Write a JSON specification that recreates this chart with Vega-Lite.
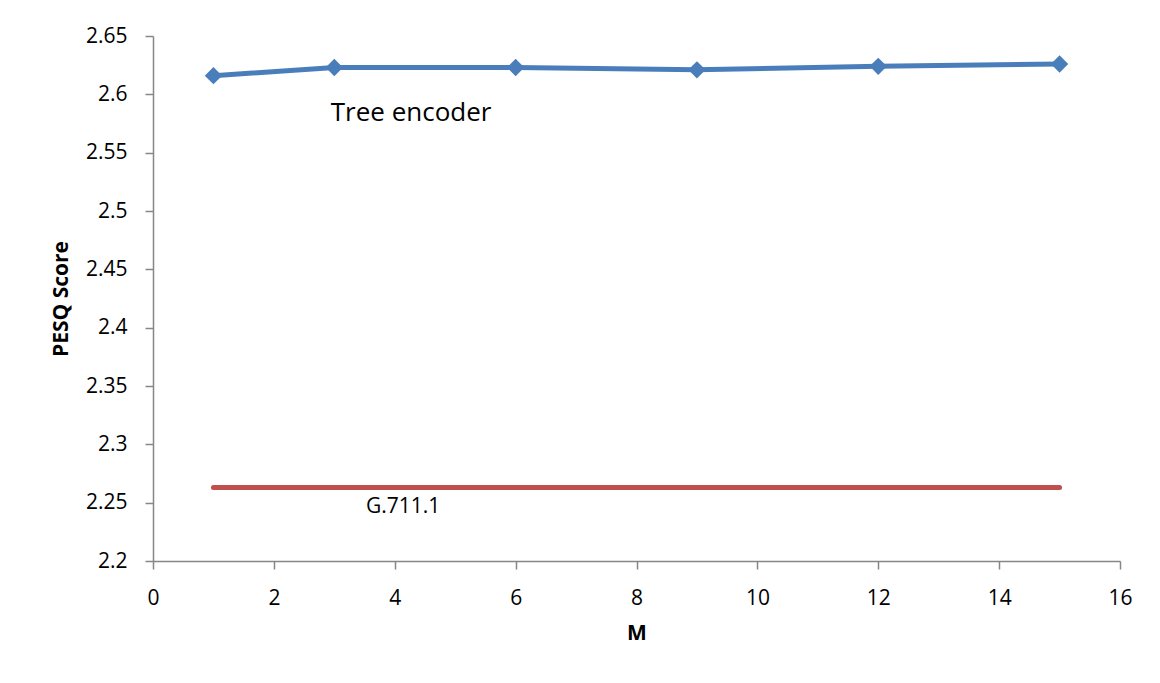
{
  "$schema": "https://vega.github.io/schema/vega-lite/v6.json",
  "autosize": "none",
  "width": 967,
  "height": 525,
  "padding": {"left": 153, "top": 36, "right": 40, "bottom": 122},
  "background": "white",
  "config": {
    "view": {"stroke": null},
    "font": "Open Sans",
    "axis": {
      "grid": false,
      "domainColor": "#868686",
      "domainWidth": 1.5,
      "tickColor": "#868686",
      "tickWidth": 1.5,
      "tickSize": 8,
      "labelFlush": false,
      "labelOverlap": false,
      "labelFont": "Open Sans",
      "labelFontSize": 21,
      "labelColor": "#000000",
      "titleFont": "Open Sans",
      "titleFontSize": 21,
      "titleFontWeight": "bold",
      "titleColor": "#000000"
    }
  },
  "datasets": {
    "tree": [
      {"M": 1, "score": 2.616},
      {"M": 3, "score": 2.623},
      {"M": 6, "score": 2.623},
      {"M": 9, "score": 2.621},
      {"M": 12, "score": 2.624},
      {"M": 15, "score": 2.626}
    ],
    "g711": [
      {"M": 1, "score": 2.263},
      {"M": 15, "score": 2.263}
    ],
    "labels": [
      {"M": 4.27, "score": 2.584, "text": "Tree encoder", "size": 26},
      {"M": 4.14, "score": 2.2463, "text": "G.711.1", "size": 21}
    ]
  },
  "layer": [
    {
      "data": {"name": "g711"},
      "mark": {"type": "line", "color": "#c0504d", "strokeWidth": 5, "strokeCap": "round"},
      "encoding": {
        "x": {"field": "M", "type": "quantitative", "scale": {"domain": [0, 16], "nice": false},
          "axis": {"values": [0, 2, 4, 6, 8, 10, 12, 14, 16], "format": "d", "title": "M", "labelPadding": 18, "titlePadding": 14}},
        "y": {"field": "score", "type": "quantitative", "scale": {"domain": [2.2, 2.65], "nice": false, "zero": false},
          "axis": {"values": [2.2, 2.25, 2.3, 2.35, 2.4, 2.45, 2.5, 2.55, 2.6, 2.65], "format": ".2~f", "title": "PESQ Score", "labelPadding": 18, "titlePadding": 14}}
      }
    },
    {
      "data": {"name": "tree"},
      "mark": {"type": "line", "color": "#4a7ebb", "strokeWidth": 5, "point": {"shape": "diamond", "size": 300, "filled": true, "color": "#4a7ebb", "opacity": 1}},
      "encoding": {
        "x": {"field": "M", "type": "quantitative"},
        "y": {"field": "score", "type": "quantitative"}
      }
    },
    {
      "data": {"name": "labels"},
      "mark": {"type": "text", "font": "Open Sans", "color": "#000000", "align": "center", "baseline": "middle"},
      "encoding": {
        "x": {"field": "M", "type": "quantitative"},
        "y": {"field": "score", "type": "quantitative"},
        "text": {"field": "text"},
        "size": {"field": "size", "type": "quantitative", "scale": null}
      }
    }
  ]
}
